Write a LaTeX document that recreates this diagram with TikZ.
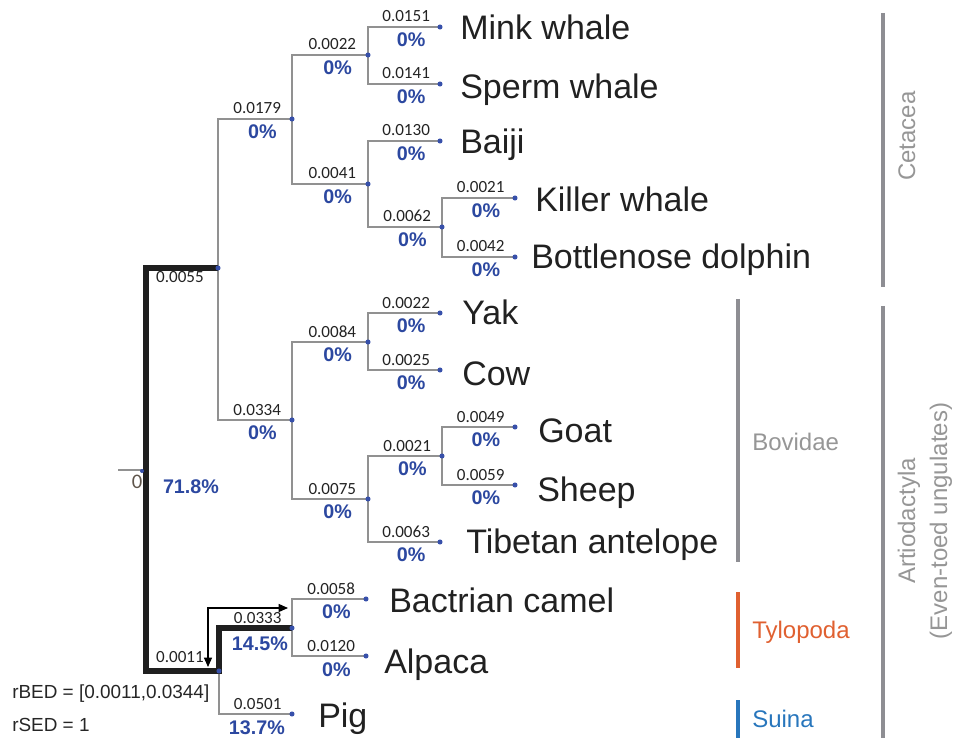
\documentclass[tikz,border=0pt]{standalone}
\usepackage{fontspec}
\setmainfont{Liberation Sans}
\newfontfamily\calib{Carlito}
\usetikzlibrary{arrows.meta}
\definecolor{brgray}{RGB}{145,145,145}
\definecolor{pctblue}{RGB}{44,72,160}
\definecolor{dotblue}{RGB}{55,80,170}
\definecolor{lenblack}{RGB}{35,35,35}
\definecolor{grpgray}{RGB}{142,142,147}
\definecolor{grptext}{RGB}{150,150,150}
\definecolor{tyloorange}{RGB}{224,96,48}
\definecolor{suinablue}{RGB}{40,118,188}
\definecolor{zerobrown}{RGB}{95,85,75}
\tikzset{
  branch/.style={draw=brgray, line width=1.3pt},
  thickbranch/.style={draw=black!88, line width=3.8pt, line join=miter},
  lenlab/.style={font=\calib\fontsize{12.8}{14}\selectfont, text=lenblack, anchor=base, inner sep=0pt, yshift=3.75pt},
  pctlab/.style={font=\bfseries\fontsize{14.8}{16}\selectfont, text=pctblue, anchor=base, inner sep=0pt, yshift=-14.5pt},
  spname/.style={font=\fontsize{25.5}{28}\selectfont, text=black!87, anchor=base west, inner sep=0pt},
  tdot/.style={circle, fill=dotblue, inner sep=0pt, minimum size=3.8pt},
  grpbar/.style={line width=3pt},
  grplab/.style={font=\fontsize{18}{20}\selectfont, inner sep=0pt},
  infolab/.style={font=\fontsize{14.2}{16}\selectfont, text=black!85, anchor=base west, inner sep=0pt},
  arrowline/.style={draw=black, line width=0.9pt, {Triangle[length=7pt,width=6pt]}-{Triangle[length=7pt,width=6pt]}}
}
\begin{document}
\begin{tikzpicture}[x=0.75pt,y=-0.75pt]
\useasboundingbox (0,0) rectangle (954,738);
% internal nodes
\coordinate (R0) at (118,470);
\coordinate (R) at (146,470);
\coordinate (A) at (218,268);
\coordinate (B) at (292,119);
\coordinate (C) at (292,420);
\coordinate (D) at (368,55);
\coordinate (E) at (368,184);
\coordinate (F) at (442,227);
\coordinate (G) at (368,342);
\coordinate (H) at (368,499);
\coordinate (I) at (442,456);
\coordinate (J) at (219,671);
\coordinate (K) at (292,628);
% leaves
\coordinate (lMink) at (440,27);
\coordinate (lSperm) at (440,84);
\coordinate (lBaiji) at (440,141);
\coordinate (lKiller) at (515,198);
\coordinate (lBottle) at (515,257);
\coordinate (lYak) at (440,313);
\coordinate (lCow) at (440,370);
\coordinate (lGoat) at (515,427);
\coordinate (lSheep) at (515,485);
\coordinate (lTib) at (440,542);
\coordinate (lBact) at (366,599);
\coordinate (lAlp) at (366,656);
\coordinate (lPig) at (292,714);

% root stub
\draw[branch] (R0) -- (R);
% grey branches
\draw[branch] (A) |- (B) node[lenlab,pos=0.765]{0.0179} node[pctlab,pos=0.8]{0\%};
\draw[branch] (A) |- (C) node[lenlab,pos=0.765]{0.0334} node[pctlab,pos=0.8]{0\%};
\draw[branch] (B) |- (D) node[lenlab,pos=0.765]{0.0022} node[pctlab,pos=0.8]{0\%};
\draw[branch] (B) |- (E) node[lenlab,pos=0.765]{0.0041} node[pctlab,pos=0.8]{0\%};
\draw[branch] (D) |- (lMink) node[lenlab,pos=0.765]{0.0151} node[pctlab,pos=0.8]{0\%};
\draw[branch] (D) |- (lSperm) node[lenlab,pos=0.765]{0.0141} node[pctlab,pos=0.8]{0\%};
\draw[branch] (E) |- (lBaiji) node[lenlab,pos=0.765]{0.0130} node[pctlab,pos=0.8]{0\%};
\draw[branch] (E) |- (F) node[lenlab,pos=0.765]{0.0062} node[pctlab,pos=0.8]{0\%};
\draw[branch] (F) |- (lKiller) node[lenlab,pos=0.765]{0.0021} node[pctlab,pos=0.8]{0\%};
\draw[branch] (F) |- (lBottle) node[lenlab,pos=0.765]{0.0042} node[pctlab,pos=0.8]{0\%};
\draw[branch] (C) |- (G) node[lenlab,pos=0.765]{0.0084} node[pctlab,pos=0.8]{0\%};
\draw[branch] (C) |- (H) node[lenlab,pos=0.765]{0.0075} node[pctlab,pos=0.8]{0\%};
\draw[branch] (G) |- (lYak) node[lenlab,pos=0.765]{0.0022} node[pctlab,pos=0.8]{0\%};
\draw[branch] (G) |- (lCow) node[lenlab,pos=0.765]{0.0025} node[pctlab,pos=0.8]{0\%};
\draw[branch] (H) |- (I) node[lenlab,pos=0.765]{0.0021} node[pctlab,pos=0.8]{0\%};
\draw[branch] (H) |- (lTib) node[lenlab,pos=0.765]{0.0063} node[pctlab,pos=0.8]{0\%};
\draw[branch] (I) |- (lGoat) node[lenlab,pos=0.765]{0.0049} node[pctlab,pos=0.8]{0\%};
\draw[branch] (I) |- (lSheep) node[lenlab,pos=0.765]{0.0059} node[pctlab,pos=0.8]{0\%};
\draw[branch] (K) |- (lBact) node[lenlab,pos=0.765]{0.0058} node[pctlab,pos=0.8]{0\%};
\draw[branch] (K) |- (lAlp) node[lenlab,pos=0.765]{0.0120} node[pctlab,pos=0.8,yshift=-1pt]{0\%};
\draw[branch] (J) |- (lPig) node[lenlab,pos=0.765]{0.0501} node[pctlab,pos=0.76,yshift=-1pt]{13.7\%};
% thick backbone
\draw[thickbranch] (A) -| (R) |- (J) |- (K)
  node[lenlab,pos=0.765]{0.0333} node[pctlab,pos=0.78,yshift=-2.5pt]{14.5\%};
% dots
\foreach \n in {A,B,C,D,E,F,G,H,I,J,K,lMink,lSperm,lBaiji,lKiller,lBottle,lYak,lCow,lGoat,lSheep,lTib,lBact,lAlp,lPig}
  \node[tdot] at (\n) {};
\node[tdot, minimum size=3pt] (rdot) at (142,471) {};
% root labels
\node[lenlab, yshift=0pt] (l0055) at (180,287) {0.0055};
\node[lenlab, yshift=0pt] (l0011) at (180,667) {0.0011};
\node[font=\calib\fontsize{15.5}{17}\selectfont, text=zerobrown, anchor=base, inner sep=0pt] (zero) at (137,488) {0};
\node[pctlab, yshift=0pt] (p718) at (191,474) {71.8\%};
% arrow
\coordinate (arrR) at (288,608);
\coordinate (arrC) at (208,608);
\coordinate (arrB) at (208,667);
\draw[arrowline] (arrR) -- (arrC) -- (arrB);
% info
\node[infolab] (rbed) at (12,698) {rBED = [0.0011,0.0344]};
\node[infolab] (rsed) at (12,731) {rSED = 1};
% species
\node[spname] (nMink) at (460,40) {Mink whale};
\node[spname] (nSperm) at (460,99) {Sperm whale};
\node[spname] (nBaiji) at (460,154) {Baiji};
\node[spname] (nKiller) at (535,212) {Killer whale};
\node[spname] (nBottle) at (531,269) {Bottlenose dolphin};
\node[spname] (nYak) at (462,325) {Yak};
\node[spname] (nCow) at (462,385) {Cow};
\node[spname] (nGoat) at (538,442) {Goat};
\node[spname] (nSheep) at (537,501) {Sheep};
\node[spname] (nTib) at (466,553) {Tibetan antelope};
\node[spname] (nBact) at (389,612) {Bactrian camel};
\node[spname] (nAlp) at (384,673) {Alpaca};
\node[spname] (nPig) at (318,727) {Pig};
% group bars
\draw[grpbar, draw=grpgray] (883,13) -- (883,287);
\draw[grpbar, draw=grpgray] (883,306) -- (883,738);
\draw[grpbar, draw=grpgray] (738,299) -- (738,562);
\draw[grpbar, draw=tyloorange] (738,592) -- (738,668);
\draw[grpbar, draw=suinablue] (738,700) -- (738,738);
% group labels
\node[grplab, rotate=90, anchor=base, text=grptext] (gCet) at (915,136) {Cetacea};
\node[grplab, rotate=90, anchor=base, text=grptext] (gArt) at (915,521) {Artiodactyla};
\node[grplab, rotate=90, anchor=base, text=grptext] (gEven) at (947,521) {(Even-toed ungulates)};
\node[grplab, anchor=base west, text=grptext] (gBov) at (752,450) {Bovidae};
\node[grplab, anchor=base west, text=tyloorange] (gTyl) at (752,638) {Tylopoda};
\node[grplab, anchor=base west, text=suinablue] (gSui) at (752,727) {Suina};
\end{tikzpicture}
\end{document}
